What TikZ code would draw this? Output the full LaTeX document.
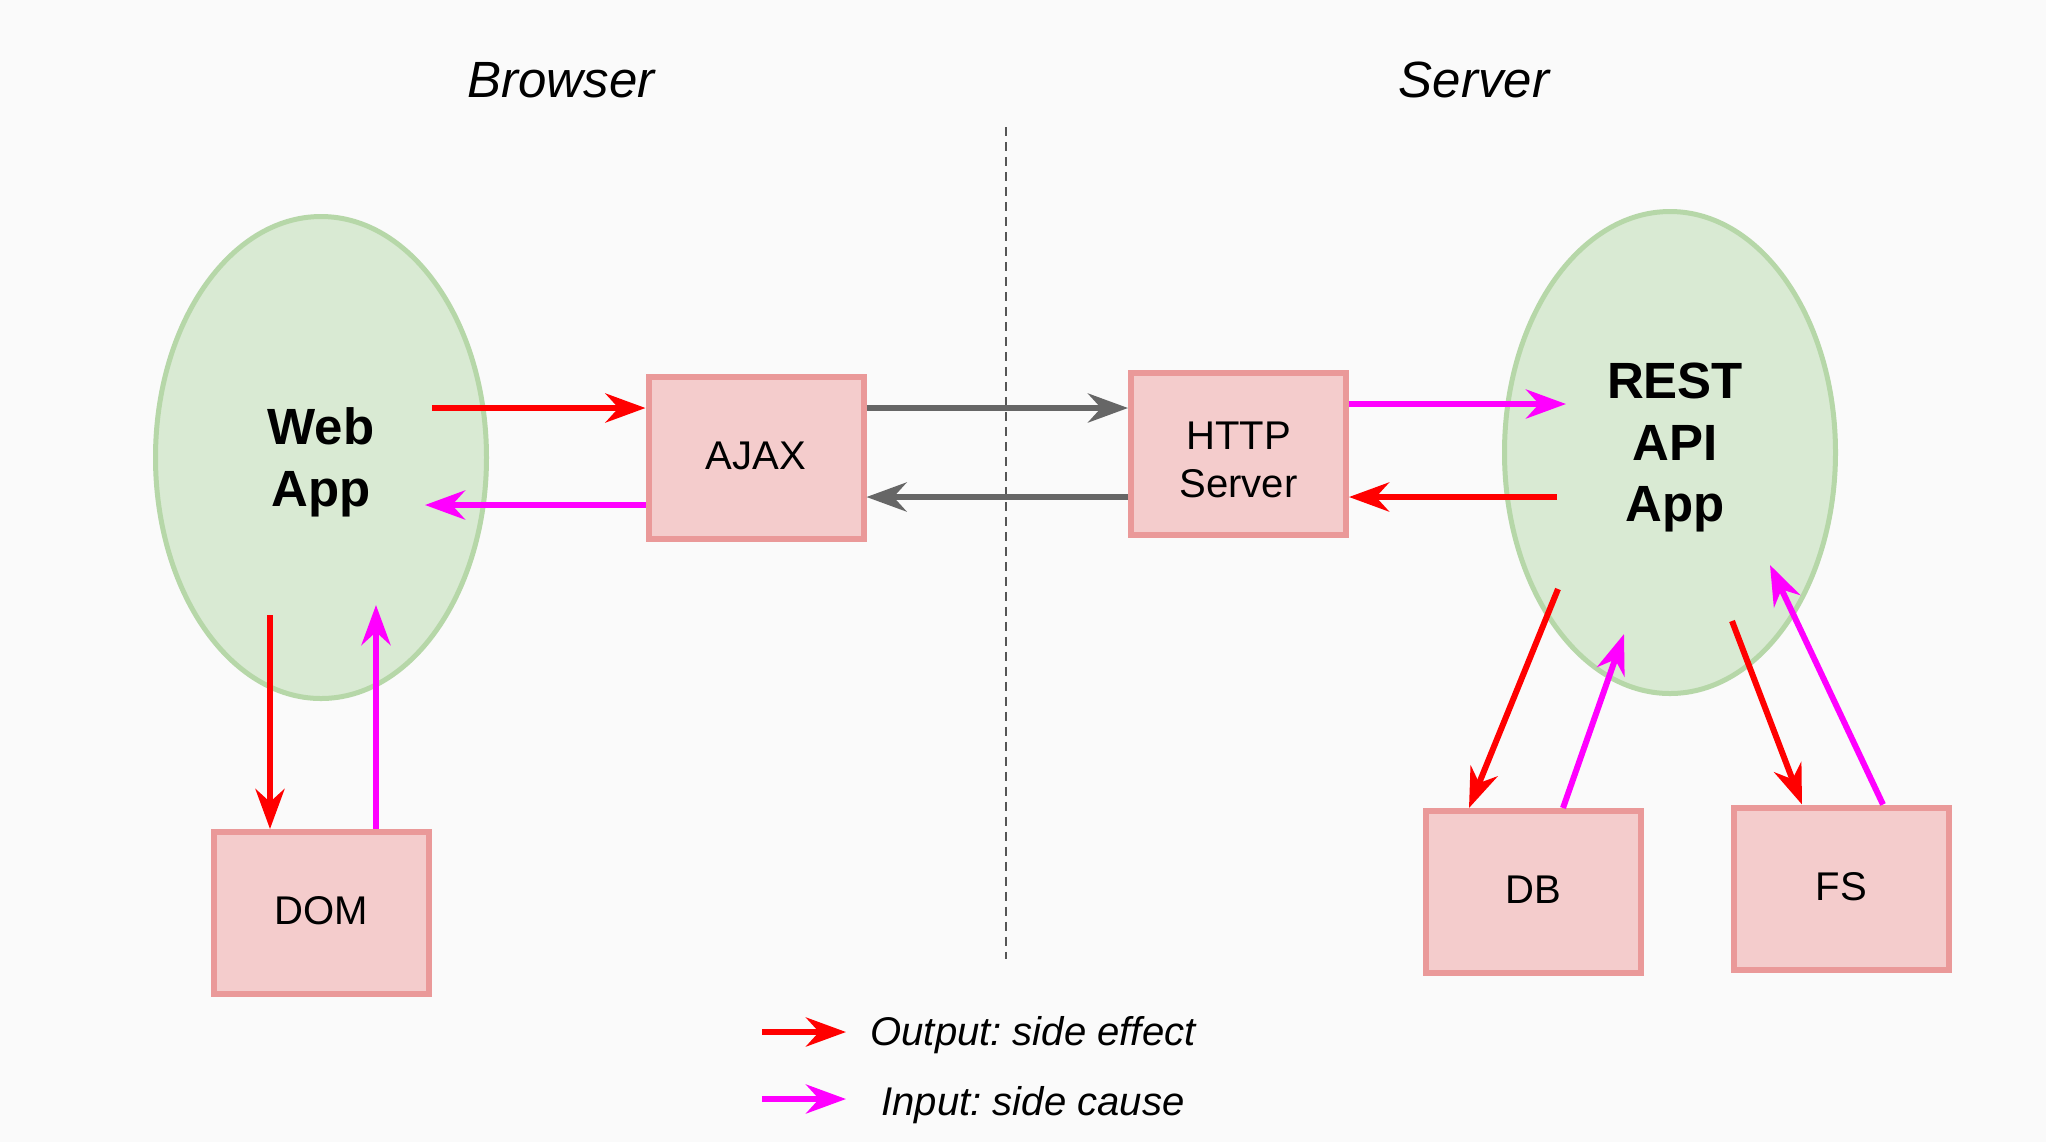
\documentclass[tikz,border=0pt]{standalone}
\usepackage{fontspec}
\setmainfont{Liberation Sans}
\usetikzlibrary{arrows.meta,shapes.geometric}
\definecolor{bgcol}{HTML}{FAFAFA}
\definecolor{boxfill}{HTML}{F4CCCC}
\definecolor{boxline}{HTML}{EA9999}
\definecolor{appfill}{HTML}{D9EAD3}
\definecolor{appline}{HTML}{B6D7A8}
\definecolor{outred}{HTML}{FF0000}
\definecolor{inmagenta}{HTML}{FF00FF}
\definecolor{msggray}{HTML}{666666}
\definecolor{sepgray}{HTML}{555555}
\frenchspacing

\begin{document}
\begin{tikzpicture}[
    tip/.style={-{Stealth[length=0.4cm, width=0.29cm, inset=0.13cm]}},
    effect/.style={tip, draw=outred, line width=0.06cm},
    cause/.style={tip, draw=inmagenta, line width=0.06cm},
    msg/.style={tip, draw=msggray, line width=0.06cm},
    box/.style={draw=boxline, fill=boxfill, line width=0.06cm, inner sep=0pt,
        minimum width=2.15cm, minimum height=1.62cm, align=center, text depth=0.05cm,
        font=\fontsize{11.4}{13.7}\selectfont},
    app/.style={ellipse, draw=appline, fill=appfill, line width=0.05cm, inner sep=0pt,
        minimum width=3.31cm, minimum height=4.82cm, align=center,
        font=\bfseries\fontsize{14.5}{17.6}\selectfont},
    side/.style={font=\itshape\fontsize{14.5}{17.4}\selectfont},
    legend/.style={font=\itshape\fontsize{11.4}{13.7}\selectfont}
]
    % background and page size
    \fill[bgcol] (0,0) rectangle (20.46,-11.42);
    \useasboundingbox (0,0) rectangle (20.46,-11.42);

    % the two sides
    \node[side] (browser) at (5.61,-0.80) {Browser};
    \node[side] (server) at (14.74,-0.80) {Server};
    \coordinate (septop) at (10.06,-1.27);
    \coordinate (sepbot) at (10.06,-9.59);
    \draw[sepgray, line width=0.025cm, dash pattern=on 0.09cm off 0.06cm] (septop) -- (sepbot);

    % apps
    \node[app] (web) at (3.21,-4.575) {\rule{0pt}{0.47cm}Web\\App};
    \node[app] (rest) at (16.70,-4.525) {};
    \node[font=\bfseries\fontsize{14.5}{17.6}\selectfont, align=center] (restlabel) at (16.75,-4.475) {REST\\API\\App};

    % boxes
    \node[box] (ajax) at (7.56,-4.58) {AJAX};
    \node[box] (http) at (12.385,-4.54) {\rule{0pt}{0.44cm}HTTP\\Server};
    \node[box] (dom) at (3.21,-9.13) {DOM};
    \node[box] (db) at (15.335,-8.92) {DB};
    \node[box] (fs) at (18.415,-8.885) {FS};

    % free ends inside the apps
    \coordinate (w1) at (4.32,-4.08);
    \coordinate (w2) at (4.25,-5.05);
    \coordinate (r1) at (15.66,-4.04);
    \coordinate (r2) at (15.57,-4.97);
    \coordinate (d1) at (2.70,-6.15);
    \coordinate (d2) at (3.76,-6.05);
    \coordinate (a1) at (15.58,-5.89);
    \coordinate (a2) at (16.24,-6.34);
    \coordinate (a3) at (17.32,-6.21);
    \coordinate (a4) at (17.70,-5.65);

    % browser side
    \draw[effect] (w1) -- (ajax.west |- w1);
    \draw[cause] (ajax.west |- w2) -- (w2);
    \draw[effect] (d1) -- (dom.north -| d1);
    \draw[cause] (dom.north -| d2) -- (d2);

    % over the wire
    \draw[msg] (ajax.east |- w1) -- (http.west |- w1);
    \draw[msg] (http.west |- r2) -- (ajax.east |- r2);

    % server side
    \draw[cause] (http.east |- r1) -- (r1);
    \draw[effect] (r2) -- (http.east |- r2);
    \draw[effect] (a1) -- ([xshift=-0.645cm]db.north);
    \draw[cause] ([xshift=0.295cm]db.north) -- (a2);
    \draw[effect] (a3) -- ([xshift=-0.395cm]fs.north);
    \draw[cause] ([xshift=0.415cm]fs.north) -- (a4);

    % legend
    \coordinate (k1) at (7.62,-10.32);
    \coordinate (k2) at (8.46,-10.32);
    \coordinate (k3) at (7.62,-10.99);
    \coordinate (k4) at (8.46,-10.99);
    \draw[effect] (k1) -- (k2);
    \draw[cause] (k3) -- (k4);
    \node[legend] (outtext) at (10.33,-10.35) {Output: side effect};
    \node[legend] (intext) at (10.33,-11.05) {Input: side cause};
\end{tikzpicture}
\end{document}
